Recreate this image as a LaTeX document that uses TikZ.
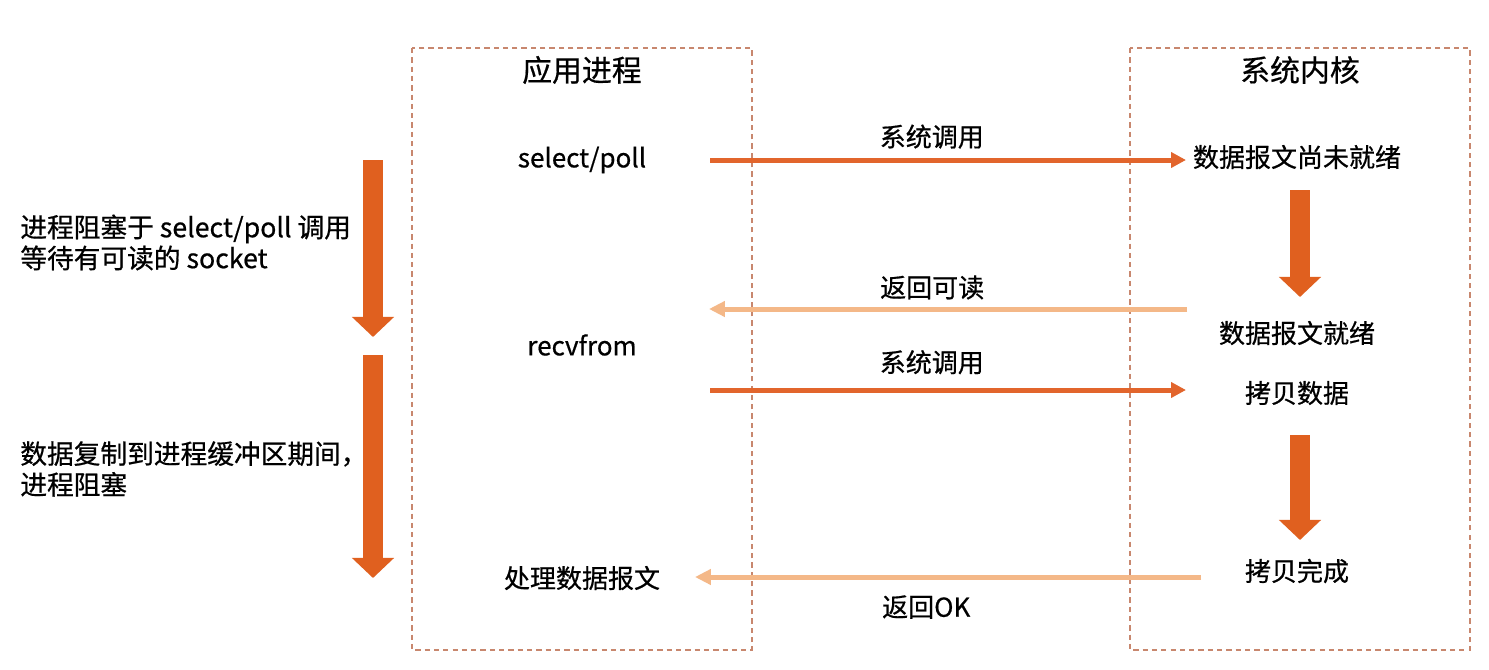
\documentclass[tikz,border=0pt]{standalone}
\usepackage{fontspec}
\setmainfont{Noto Sans CJK SC}[UprightFeatures={FakeBold=0.6}]
\usetikzlibrary{arrows.meta}
\definecolor{callorange}{HTML}{E2652C}
\definecolor{blockorange}{HTML}{E0601F}
\definecolor{backorange}{HTML}{F4B888}
\definecolor{boxline}{HTML}{C8876E}
\begin{document}
\begin{tikzpicture}[x=0.02cm,y=-0.02cm,
        zone/.style={draw=boxline,line width=0.6pt,dash pattern=on 3pt off 2.3pt},
        title/.style={inner sep=0pt,font=\fontsize{17}{20}\selectfont},
        label/.style={inner sep=0pt,font=\fontsize{14.8}{18}\selectfont},
        note/.style={inner sep=0pt,anchor=west,align=left,font=\fontsize{15.2}{17.6}\selectfont},
        call/.style={draw=callorange,line width=2.85pt,-{Triangle[length=8.5pt,width=8.5pt]}},
        back/.style={draw=backorange,line width=2.85pt,-{Triangle[length=9pt,width=8.5pt]}},
        block/.style={draw=blockorange,line width=11.4pt,-{Triangle[length=11.4pt,width=23.3pt]}}]
        \useasboundingbox[fill=white] (0,0) rectangle (1489,670);
        % two sides
        \draw[zone] (412,48) rectangle (752,650);
        \draw[zone] (1130,48) rectangle (1470,650);
        \node[title] (app) at (582,70) {应用进程};
        \node[title] (kernel) at (1300,70) {系统内核};
        % application side
        \node[label] (select) at (582,160) {select/poll};
        \node[label] (recv) at (582,345) {recvfrom};
        \node[label] (handle) at (582,578) {处理数据报文};
        % kernel side
        \node[label] (notready) at (1297,157) {数据报文尚未就绪};
        \node[label] (ready) at (1297,333) {数据报文就绪};
        \node[label] (copy) at (1297,393) {拷贝数据};
        \node[label] (done) at (1297,571) {拷贝完成};
        % left notes
        \node[note] (wait) at (20,242.5) {进程阻塞于 select/poll 调用\\等待有可读的 socket};
        \node[note] (block) at (20,469) {数据复制到进程缓冲区期间，\\进程阻塞};
        % arrow ends
        \coordinate (c1s) at (710,160);
        \coordinate (c1e) at (1186,160);
        \coordinate (r1s) at (1187,309);
        \coordinate (r1e) at (709,309);
        \coordinate (c2s) at (710,390);
        \coordinate (c2e) at (1186,390);
        \coordinate (r2s) at (1201,577);
        \coordinate (r2e) at (695,577);
        \draw[call] (c1s) -- node[label,pos=0.466,above=5pt] (sys1) {系统调用} (c1e);
        \draw[back] (r1s) -- node[label,pos=0.533,above=4pt] (ret1) {返回可读} (r1e);
        \draw[call] (c2s) -- node[label,pos=0.466,above=7.5pt] (sys2) {系统调用} (c2e);
        \draw[back] (r2s) -- node[label,pos=0.543,below=9pt] (ret2) {返回OK} (r2e);
        % block arrows
        \coordinate (k1a) at (1300,190);
        \coordinate (k1b) at (1300,297);
        \coordinate (k2a) at (1300,435);
        \coordinate (k2b) at (1300,540);
        \coordinate (p1a) at (373,160);
        \coordinate (p1b) at (373,337);
        \coordinate (p2a) at (373,355);
        \coordinate (p2b) at (373,578);
        \draw[block] (k1a) -- (k1b);
        \draw[block] (k2a) -- (k2b);
        \draw[block] (p1a) -- (p1b);
        \draw[block] (p2a) -- (p2b);
      \end{tikzpicture}
\end{document}
